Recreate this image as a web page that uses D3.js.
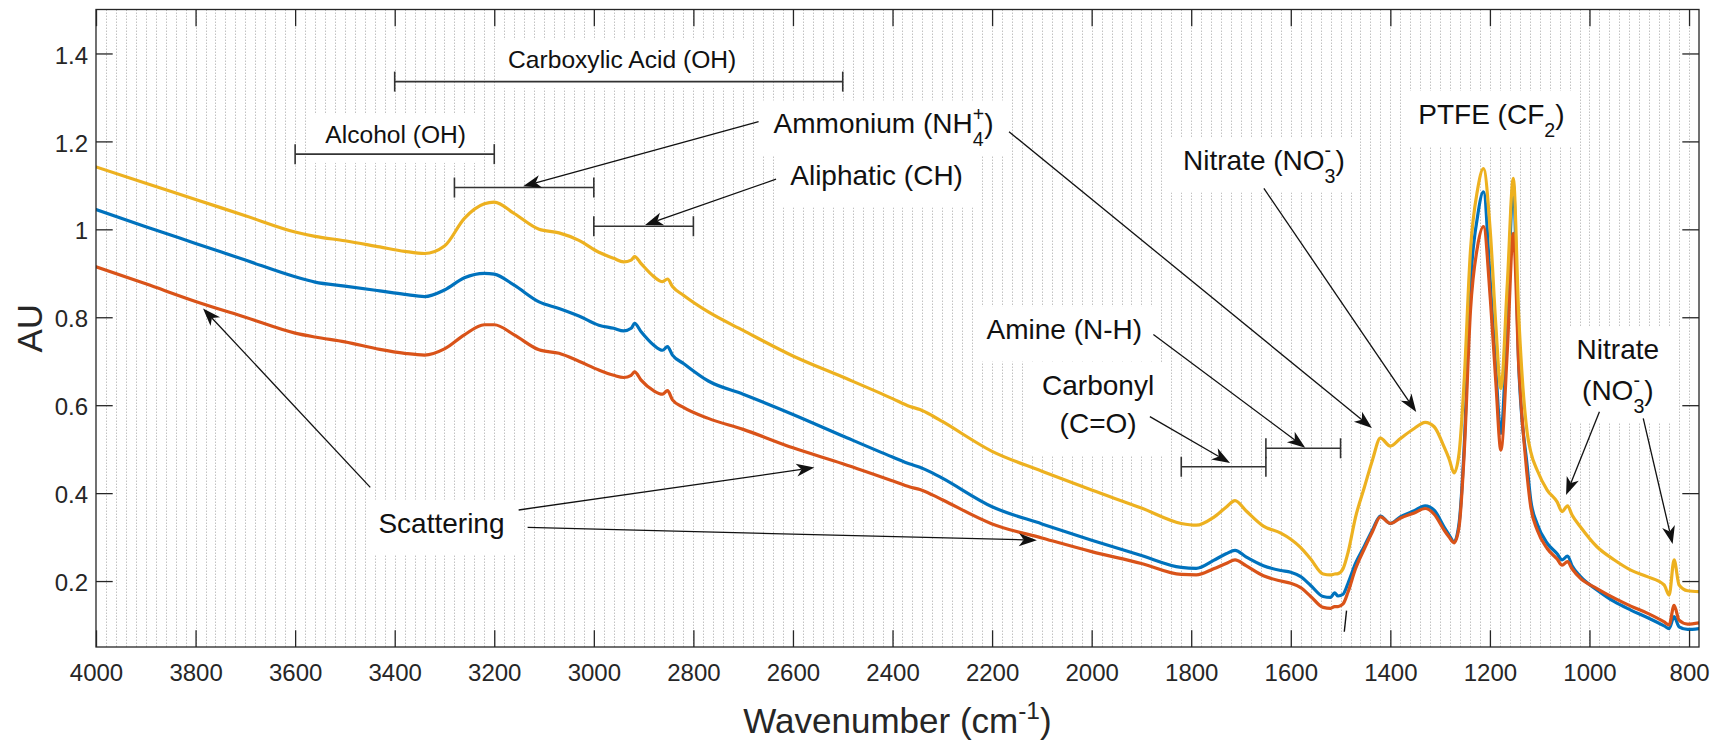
<!DOCTYPE html>
<html>
<head>
<meta charset="utf-8">
<script src="https://cdn.jsdelivr.net/npm/d3@7"></script>
<style>
  html, body { margin: 0; padding: 0; background: #fff; }
  svg { display: block; font-family: "Liberation Sans", Arial, Helvetica, sans-serif; }
</style>
</head>
<body>
<svg id="chart" width="1721" height="742"></svg>
<script>
// ---- Spectra (absorbance vs. wavenumber) ----
const wavenumber = [4000, 3900, 3800, 3700, 3600, 3560, 3500, 3430, 3380, 3340, 3300, 3260, 3220, 3200, 3160, 3110, 3070, 3030, 2990, 2960,
  2940, 2925, 2918, 2905, 2880, 2862, 2852, 2842, 2820, 2770, 2700, 2600, 2500, 2400, 2365, 2345, 2320, 2300, 2200, 2100,
  2000, 1900, 1820, 1790, 1755, 1730, 1712, 1690, 1655, 1620, 1600, 1580, 1560, 1535, 1520, 1512, 1505, 1495, 1485, 1470,
  1452, 1436, 1420, 1400, 1380, 1352, 1330, 1312, 1292, 1282, 1272, 1262, 1252, 1239, 1225, 1213, 1199, 1188, 1178, 1165,
  1153, 1142, 1125, 1118, 1105, 1085, 1065, 1055, 1044, 1035, 1018, 985, 950, 917, 884, 850, 840, 830, 820, 803, 780];

const spectrumBlue = [1.045, 1.006, 0.968, 0.930, 0.892, 0.880, 0.871, 0.860, 0.852, 0.847, 0.862, 0.890, 0.900, 0.898, 0.873, 0.835, 0.820, 0.803, 0.782, 0.775,
  0.769, 0.775, 0.786, 0.767, 0.737, 0.725, 0.733, 0.714, 0.695, 0.655, 0.625, 0.579, 0.530, 0.482, 0.466, 0.459, 0.446, 0.434, 0.369, 0.330,
  0.293, 0.258, 0.231, 0.229, 0.247, 0.262, 0.270, 0.255, 0.235, 0.224, 0.220, 0.210, 0.190, 0.165, 0.163, 0.173, 0.166, 0.170, 0.195, 0.240,
  0.280, 0.316, 0.348, 0.331, 0.346, 0.360, 0.371, 0.361, 0.323, 0.305, 0.289, 0.331, 0.498, 0.877, 1.028, 1.085, 0.877, 0.680, 0.536, 0.801,
  1.100, 0.687, 0.460, 0.384, 0.330, 0.286, 0.262, 0.248, 0.257, 0.235, 0.210, 0.180, 0.153, 0.134, 0.117, 0.098, 0.092, 0.119, 0.096, 0.090, 0.092];

const spectrumRed = [0.915, 0.876, 0.836, 0.800, 0.764, 0.755, 0.744, 0.727, 0.718, 0.714, 0.728, 0.760, 0.783, 0.783, 0.760, 0.726, 0.718, 0.700, 0.680, 0.668,
  0.663, 0.668, 0.676, 0.657, 0.633, 0.625, 0.633, 0.612, 0.595, 0.570, 0.545, 0.503, 0.467, 0.428, 0.414, 0.408, 0.396, 0.385, 0.330, 0.298,
  0.267, 0.240, 0.215, 0.214, 0.228, 0.240, 0.248, 0.235, 0.212, 0.200, 0.195, 0.185, 0.165, 0.140, 0.138, 0.142, 0.142, 0.148, 0.175, 0.228,
  0.274, 0.312, 0.346, 0.331, 0.343, 0.355, 0.365, 0.352, 0.316, 0.300, 0.287, 0.323, 0.483, 0.816, 0.960, 1.006, 0.839, 0.650, 0.498, 0.725,
  0.991, 0.687, 0.437, 0.369, 0.316, 0.274, 0.250, 0.236, 0.244, 0.228, 0.206, 0.183, 0.161, 0.143, 0.127, 0.107, 0.100, 0.145, 0.111, 0.102, 0.105];

const spectrumYellow = [1.142, 1.105, 1.068, 1.031, 0.994, 0.984, 0.974, 0.960, 0.950, 0.945, 0.962, 1.025, 1.058, 1.062, 1.036, 1.000, 0.992, 0.975, 0.948, 0.934,
  0.926, 0.930, 0.938, 0.922, 0.893, 0.881, 0.887, 0.870, 0.850, 0.812, 0.770, 0.712, 0.664, 0.615, 0.597, 0.590, 0.576, 0.563, 0.495, 0.450,
  0.407, 0.366, 0.331, 0.327, 0.345, 0.368, 0.383, 0.360, 0.325, 0.309, 0.295, 0.276, 0.250, 0.216, 0.214, 0.216, 0.217, 0.228, 0.265, 0.345,
  0.414, 0.475, 0.525, 0.507, 0.524, 0.547, 0.561, 0.551, 0.505, 0.478, 0.446, 0.490, 0.650, 0.953, 1.089, 1.138, 0.991, 0.780, 0.638, 0.877,
  1.116, 0.801, 0.536, 0.494, 0.452, 0.407, 0.380, 0.358, 0.371, 0.350, 0.323, 0.278, 0.248, 0.225, 0.210, 0.191, 0.168, 0.248, 0.191, 0.178, 0.176];

// ---- Axes ----
const xTicks = [4000, 3800, 3600, 3400, 3200, 3000, 2800, 2600, 2400, 2200, 2000, 1800, 1600, 1400, 1200, 1000, 800];
const yTicks = [0.2, 0.4, 0.6, 0.8, 1.0, 1.2, 1.4];
const yTickLabels = ["0.2", "0.4", "0.6", "0.8", "1", "1.2", "1.4"];
const gridWavenumbers = d3.range(800, 4000, 20);

// ---- Band annotations (wavenumber ranges, AU levels) ----
const bandRanges = [
  { band: "Carboxylic Acid", from: 3400, to: 2500, level: 1.336 },
  { band: "Alcohol",         from: 3600, to: 3200, level: 1.171 },
  { band: "Ammonium",        from: 3280, to: 3000, level: 1.095 },
  { band: "Aliphatic",       from: 3000, to: 2800, level: 1.007 },
  { band: "Carbonyl",        from: 1820, to: 1650, level: 0.460 },
  { band: "Amine",           from: 1650, to: 1500, level: 0.502 }
];

// label text; strings are plain runs, objects carry stacked sub/superscripts
const bandLabels = [
  { id: "carboxylic", w: 2943, lines: [{ v: 1.366, segs: ["Carboxylic Acid (OH)"] }] },
  { id: "alcohol",    w: 3398, lines: [{ v: 1.196, segs: ["Alcohol (OH)"] }] },
  { id: "ammonium",   w: 2418, lines: [{ v: 1.218, segs: ["Ammonium (NH", { sub: "4", sup: "+" }, ")"] }] },
  { id: "aliphatic",  w: 2432, lines: [{ v: 1.101, segs: ["Aliphatic (CH)"] }] },
  { id: "nitrate1",   w: 1654, lines: [{ v: 1.135, segs: ["Nitrate (NO", { sub: "3", sup: "-" }, ")"] }] },
  { id: "ptfe",       w: 1197, lines: [{ v: 1.2395, segs: ["PTFE (CF", { sub: "2" }, ")"] }] },
  { id: "nitrate2",   w: 943,  lines: [{ v: 0.705, segs: ["Nitrate"] }, { v: 0.612, segs: ["(NO", { sub: "3", sup: "-" }, ")"] }] },
  { id: "amine",      w: 2055, lines: [{ v: 0.750, segs: ["Amine (N-H)"] }] },
  { id: "carbonyl",   w: 1987, lines: [{ v: 0.6225, segs: ["Carbonyl"] }, { v: 0.536, segs: ["(C=O)"] }] },
  { id: "scattering", w: 3306, lines: [{ v: 0.310, segs: ["Scattering"] }] }
];

// arrows: from [wavenumber, AU] to tip [wavenumber, AU]
const pointers = [
  { from: [2669, 1.245], to: [3142, 1.098] },
  { from: [2634, 1.114], to: [2897, 1.010] },
  { from: [2166, 1.222], to: [1437, 0.548] },
  { from: [1876, 0.761], to: [1571, 0.503] },
  { from: [1883, 0.574], to: [1722, 0.4685] },
  { from: [1654, 1.093], to: [1348, 0.5845] },
  { from: [980, 0.585],  to: [1047, 0.3957] },
  { from: [892, 0.570],  to: [833, 0.284] },
  { from: [3449, 0.413], to: [3785, 0.820] },
  { from: [3151, 0.3616], to: [2557, 0.458] },
  { from: [3133, 0.322], to: [2110, 0.293] }
];

const markSegment = [[1488, 0.1326], [1492.5, 0.0848]];

// ---- Layout ----
const svg = d3.select("#chart");
const plot = { left: 96, right: 1699, top: 9.5, bottom: 647 };
const x = d3.scaleLinear().domain([4000, 780]).range([plot.left, plot.right]);
const y = d3.scaleLinear().domain([0.05, 1.5]).range([plot.bottom, plot.top]);
const axisColor = "#262626";
const tickLen = 16.7;

svg.append("defs").append("clipPath").attr("id", "plotClip")
  .append("rect")
  .attr("x", plot.left).attr("y", plot.top)
  .attr("width", plot.right - plot.left).attr("height", plot.bottom - plot.top);

// minor vertical grid (dotted)
svg.append("g").attr("class", "grid")
  .selectAll("line").data(gridWavenumbers).join("line")
  .attr("x1", d => Math.round(x(d)) + 0.5).attr("x2", d => Math.round(x(d)) + 0.5)
  .attr("y1", plot.top).attr("y2", plot.bottom)
  .attr("stroke", "#c2c2c2").attr("stroke-width", 1)
  .attr("stroke-dasharray", "1.5 1.5");

// ---- Label boxes with text ----
function richText(sel, segs, F) {
  let cur = 0, pendingDx = 0;
  const small = F * 0.7, shift = 0.45 * F;
  segs.forEach(seg => {
    if (typeof seg === "string") {
      const t = sel.append("tspan").text(seg);
      if (cur !== 0) t.attr("dy", -cur);
      if (pendingDx) t.attr("dx", pendingDx);
      cur = 0; pendingDx = 0;
    } else {
      let wSub = 0;
      if (seg.sub) {
        const t = sel.append("tspan").attr("font-size", small).attr("dy", shift - cur).text(seg.sub);
        if (pendingDx) t.attr("dx", pendingDx);
        pendingDx = 0;
        wSub = t.node().getComputedTextLength();
        cur = shift;
      }
      if (seg.sup) {
        const t = sel.append("tspan").attr("font-size", small).attr("dy", -shift - cur).text(seg.sup);
        if (seg.sub) t.attr("dx", -wSub);
        const wSup = t.node().getComputedTextLength();
        cur = -shift;
        if (seg.sub) pendingDx = Math.max(0, wSub - wSup);
      }
    }
  });
}

const labelLayer = svg.append("g").attr("class", "labels");
bandLabels.forEach(lab => {
  const F = (lab.id === "carboxylic" || lab.id === "alcohol") ? 24.6 : 28;
  const g = labelLayer.append("g");
  const texts = lab.lines.map(line => {
    const t = g.append("text")
      .attr("x", x(lab.w)).attr("y", y(line.v))
      .attr("text-anchor", "middle")
      .attr("font-size", F).attr("fill", "#111");
    richText(t, line.segs, F);
    return t;
  });
  let minX = Infinity, maxX = -Infinity;
  texts.forEach(t => { const b = t.node().getBBox(); minX = Math.min(minX, b.x); maxX = Math.max(maxX, b.x + b.width); });
  const top = y(lab.lines[0].v) - 1.18 * F;
  const bottom = y(lab.lines[lab.lines.length - 1].v) + 0.8 * F;
  g.insert("rect", ":first-child")
    .attr("x", minX - 12).attr("y", top)
    .attr("width", maxX - minX + 24).attr("height", bottom - top)
    .attr("fill", "#fff");
});

// ---- Band range brackets ----
const capHalf = 10;
const bracketLayer = svg.append("g").attr("class", "brackets")
  .attr("stroke", "#333").attr("stroke-width", 1.6).attr("fill", "none");
bandRanges.forEach(b => {
  const g = bracketLayer.append("g");
  g.append("line").attr("x1", x(b.from)).attr("x2", x(b.to)).attr("y1", y(b.level)).attr("y2", y(b.level));
  [b.from, b.to].forEach(w => {
    g.append("line").attr("x1", x(w)).attr("x2", x(w))
      .attr("y1", y(b.level) - capHalf).attr("y2", y(b.level) + capHalf);
  });
});

// ---- Spectra ----
const series = [
  { values: spectrumBlue,   color: "#0072BD" },
  { values: spectrumRed,    color: "#D95319" },
  { values: spectrumYellow, color: "#EDB120" }
];
const line = d3.line()
  .x(d => x(d[0])).y(d => y(d[1]))
  .curve(d3.curveMonotoneX);
svg.append("g").attr("clip-path", "url(#plotClip)")
  .selectAll("path").data(series).join("path")
  .attr("d", s => line(wavenumber.map((w, i) => [w, s.values[i]])))
  .attr("fill", "none")
  .attr("stroke", s => s.color)
  .attr("stroke-width", 3.2)
  .attr("stroke-linejoin", "round")
  .attr("stroke-linecap", "round");

// ---- Axes (ticks inside on all four sides) ----
function styleAxis(g) {
  g.select(".domain").remove();
  g.selectAll(".tick line").attr("stroke", axisColor).attr("stroke-width", 1.3);
  g.selectAll(".tick text").attr("fill", axisColor).attr("font-size", 24)
    .attr("font-family", "'Liberation Sans', Arial, sans-serif");
}
svg.append("g").attr("transform", `translate(0,${plot.bottom})`)
  .call(d3.axisBottom(x).tickValues(xTicks).tickFormat(d3.format("d")).tickSize(-tickLen).tickSizeOuter(0).tickPadding(17))
  .call(styleAxis);
svg.append("g").attr("transform", `translate(0,${plot.top})`)
  .call(d3.axisTop(x).tickValues(xTicks).tickFormat("").tickSize(-tickLen).tickSizeOuter(0))
  .call(styleAxis);
svg.append("g").attr("transform", `translate(${plot.left},0)`)
  .call(d3.axisLeft(y).tickValues(yTicks).tickFormat((d, i) => yTickLabels[i]).tickSize(-tickLen).tickSizeOuter(0).tickPadding(8))
  .call(styleAxis)
  .call(g => g.selectAll(".tick text").attr("dy", "0.4em"));
svg.append("g").attr("transform", `translate(${plot.right},0)`)
  .call(d3.axisRight(y).tickValues(yTicks).tickFormat("").tickSize(-tickLen).tickSizeOuter(0))
  .call(styleAxis);

svg.append("rect")
  .attr("x", plot.left).attr("y", plot.top)
  .attr("width", plot.right - plot.left).attr("height", plot.bottom - plot.top)
  .attr("fill", "none").attr("stroke", axisColor).attr("stroke-width", 1.3);

// axis titles
const xTitle = svg.append("text")
  .attr("x", (plot.left + plot.right) / 2).attr("y", 733)
  .attr("text-anchor", "middle").attr("font-size", 35).attr("fill", axisColor);
xTitle.append("tspan").text("Wavenumber (cm");
xTitle.append("tspan").attr("font-size", 24.5).attr("dy", -14).text("-1");
xTitle.append("tspan").attr("dy", 14).text(")");

svg.append("text")
  .attr("transform", `translate(42,${(plot.top + plot.bottom) / 2}) rotate(-90)`)
  .attr("text-anchor", "middle").attr("font-size", 35).attr("fill", axisColor)
  .text("AU");

// small tick mark drawn near 1490 cm-1
svg.append("line")
  .attr("x1", x(markSegment[0][0])).attr("y1", y(markSegment[0][1]))
  .attr("x2", x(markSegment[1][0])).attr("y2", y(markSegment[1][1]))
  .attr("stroke", "#111").attr("stroke-width", 1.4);

// ---- Arrows ----
const arrowLayer = svg.append("g").attr("class", "arrows");
pointers.forEach(p => {
  const x0 = x(p.from[0]), y0 = y(p.from[1]);
  const x1 = x(p.to[0]), y1 = y(p.to[1]);
  const dx = x1 - x0, dy = y1 - y0, len = Math.hypot(dx, dy);
  const ux = dx / len, uy = dy / len, px = -uy, py = ux;
  const L = 18, W = 6.5, N = 5;
  const bx = x1 - ux * (L - N), by = y1 - uy * (L - N);
  arrowLayer.append("line")
    .attr("x1", x0).attr("y1", y0).attr("x2", bx).attr("y2", by)
    .attr("stroke", "#111").attr("stroke-width", 1.3);
  arrowLayer.append("path")
    .attr("d", `M${x1},${y1} L${x1 - ux * L + px * W},${y1 - uy * L + py * W} L${bx},${by} L${x1 - ux * L - px * W},${y1 - uy * L - py * W} Z`)
    .attr("fill", "#111");
});
</script>
</body>
</html>
